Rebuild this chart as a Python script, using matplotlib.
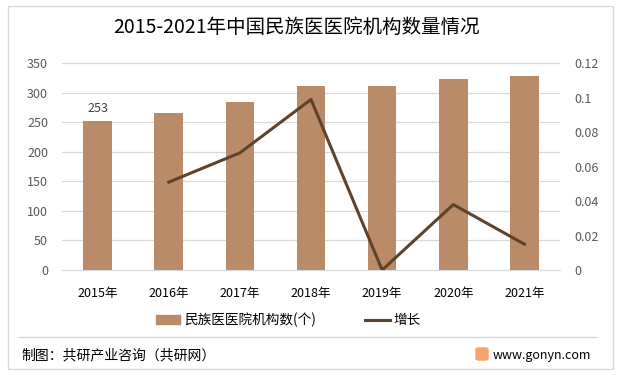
import matplotlib
matplotlib.use("Agg")
import matplotlib.pyplot as plt
from matplotlib.patches import Rectangle, FancyBboxPatch
from matplotlib.lines import Line2D

plt.rcParams['font.family'] = ['Noto Sans CJK SC', 'DejaVu Sans']

years = ['2015年', '2016年', '2017年', '2018年', '2019年', '2020年', '2021年']
counts = [253, 266, 284, 312, 312, 324, 329]
growth_years = ['2016年', '2017年', '2018年', '2019年', '2020年', '2021年']
growth = [0.051, 0.068, 0.099, 0.0, 0.038, 0.015]
left_ticks = [0, 50, 100, 150, 200, 250, 300, 350]
right_ticks = [0, 0.02, 0.04, 0.06, 0.08, 0.1, 0.12]
right_labels = ['0', '0.02', '0.04', '0.06', '0.08', '0.1', '0.12']

bar_color = '#B98B69'
line_color = '#5E432C'
tick_color = '#595959'

fig = plt.figure(figsize=(6.2, 3.75), dpi=100)
fig.patch.set_facecolor('white')

# outer border
fig.add_artist(Rectangle((8/620, 1-369/375), (613-8)/620, (369-6)/375,
                         transform=fig.transFigure, fill=False,
                         edgecolor='#D9D9D9', linewidth=1))

ax = fig.add_axes([62/620, 1-270/375, (560-62)/620, (270-63.3)/375])
x = list(range(len(years)))
ax.bar(x, counts, width=0.4, color=bar_color, zorder=2)
ax.set_xlim(-0.5, len(years)-0.5)
ax.set_ylim(0, 350)
ax.set_yticks(left_ticks)
ax.set_xticks(x)
ax.set_xticklabels(years, fontsize=9, color='#000000')
ax.tick_params(axis='y', labelsize=9, labelcolor=tick_color, length=0, pad=10)
ax.tick_params(axis='x', length=0, pad=12)
ax.grid(axis='y', color='#D9D9D9', linewidth=0.9, zorder=0)
for s in ax.spines.values():
    s.set_visible(False)
ax.spines['bottom'].set_visible(True)
ax.spines['bottom'].set_color('#D9D9D9')
ax.annotate(str(counts[0]), (x[0], counts[0]), xytext=(0, 4),
            textcoords='offset points', ha='center', va='bottom',
            fontsize=9, color='#404040')

ax2 = ax.twinx()
gx = [years.index(g) for g in growth_years]
ax2.plot(gx, growth, color=line_color, linewidth=2.2, zorder=3)
ax2.set_ylim(0, 0.12)
ax2.set_yticks(right_ticks)
ax2.set_yticklabels(right_labels)
ax2.tick_params(axis='y', labelsize=9, labelcolor=tick_color, length=0, pad=10)
for s in ax2.spines.values():
    s.set_visible(False)

fig.text(297/620, 1-27/375, '2015-2021年中国民族医医院机构数量情况', ha='center',
         va='center', fontsize=14, color='#000000')

# legend
handles = [Rectangle((0, 0), 1, 1, color=bar_color),
           Line2D([0], [0], color=line_color, linewidth=2.2)]
fig.legend(handles, ['民族医医院机构数(个)', '增长'], loc='center',
           bbox_to_anchor=(0.465, 1-320/375), ncol=2, frameon=False,
           fontsize=9.8, handlelength=1.8, handleheight=0.7,
           columnspacing=3.6, handletextpad=0.3)

# separator
fig.add_artist(Line2D([18/620, 597/620], [1-337/375, 1-337/375],
                      transform=fig.transFigure, color='#D9D9D9', linewidth=1))

fig.text(21/620, 1-355/375, '制图：共研产业咨询（共研网）', ha='left', va='center',
         fontsize=10, color='#000000')
fig.add_artist(FancyBboxPatch((476/620, 1-360/375), 12/620, 12/375,
                              boxstyle='round,pad=0,rounding_size=0.004',
                              transform=fig.transFigure, color='#F5A46E'))
fig.text(493/620, 1-355/375, 'www.gonyn.com', ha='left', va='center',
         fontsize=9, color='#000000')

fig.savefig('out.png', dpi=100, facecolor='white')
